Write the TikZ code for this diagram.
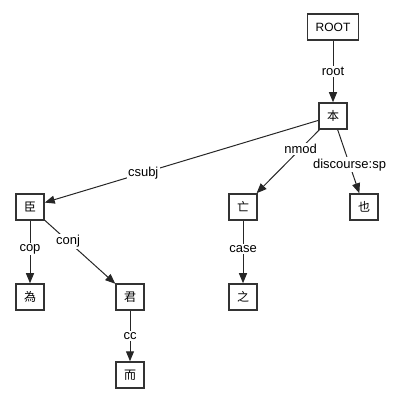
\documentclass[tikz,border=0pt]{standalone}
\usepackage{fontspec}
\setmainfont{Liberation Sans}
\newfontfamily\cjk{Noto Sans CJK SC}
\usetikzlibrary{arrows.meta}
\begin{document}
\begin{tikzpicture}[x=1pt,y=-1pt,
  tok/.style={draw=black!80,line width=1.5pt,minimum width=26pt,minimum height=26pt,inner xsep=8pt,inner ysep=2pt,font=\fontsize{12}{14}\selectfont},
  dep/.style={draw=black!85,line width=1pt,-{Triangle[length=10pt,width=8pt]}},
  lab/.style={fill=white,inner sep=1.5pt,font=\fontsize{13}{15}\selectfont}]
\useasboundingbox (0,0) rectangle (415,403);
\node[tok] (root) at (333,27) {ROOT};
\node[tok] (ben) at (333,116) {\cjk 本};
\node[tok] (chen) at (30,207) {\cjk 臣};
\node[tok] (wei) at (30,297) {\cjk 為};
\node[tok] (jun) at (130,297) {\cjk 君};
\node[tok] (er) at (130,375) {\cjk 而};
\node[tok] (wang) at (243,207) {\cjk 亡};
\node[tok] (zhi) at (243,297) {\cjk 之};
\node[tok] (ye) at (364,207) {\cjk 也};
\draw[dep] (root) -- node[lab,pos=0.5] {root} (ben);
\draw[dep] (ben) -- node[lab,pos=0.64] {csubj} (chen);
\draw[dep] (ben) -- node[lab,pos=0.3] {nmod} (wang);
\draw[dep] (ben) -- node[lab,pos=0.55] {discourse:sp} (ye);
\draw[dep] (chen) -- node[lab,pos=0.45] {cop} (wei);
\draw[dep] (chen) -- node[lab,pos=0.33] {conj} (jun);
\draw[dep] (wang) -- node[lab,pos=0.45] {case} (zhi);
\draw[dep] (jun) -- node[lab,pos=0.5] {cc} (er);
\end{tikzpicture}
\end{document}
